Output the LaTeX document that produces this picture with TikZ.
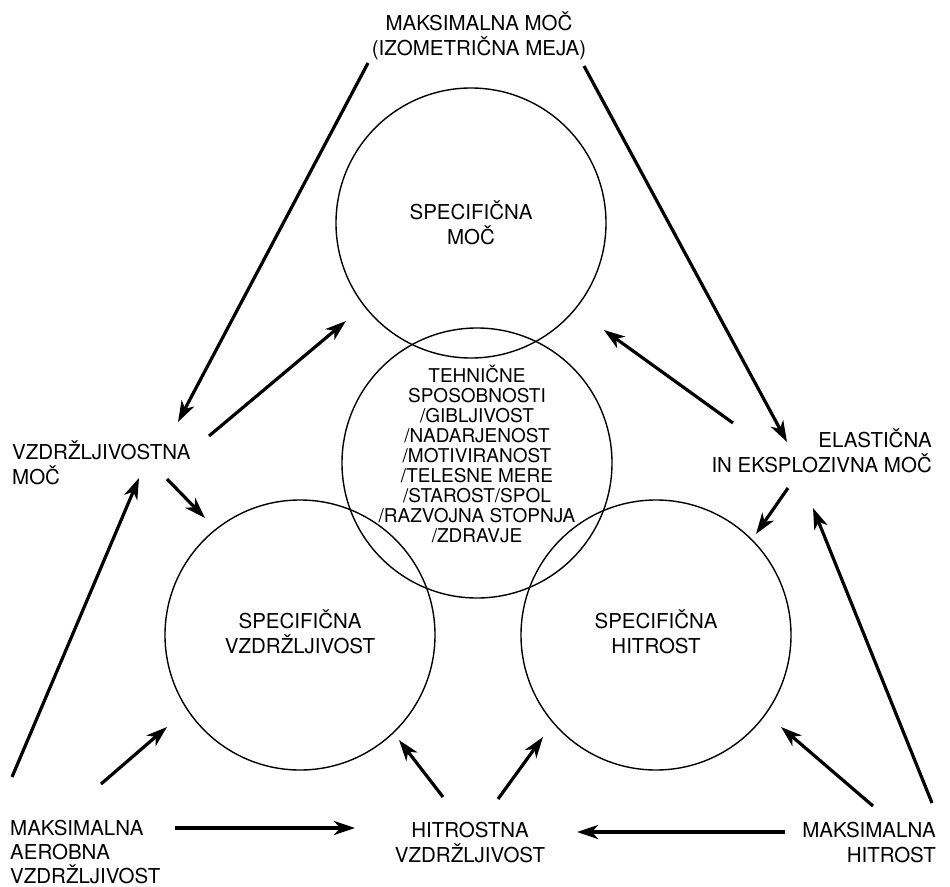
\documentclass[tikz,border=0pt]{standalone}
\usepackage{fontspec}
\setmainfont{TeX Gyre Heros}
\usetikzlibrary{arrows.meta}
\tikzset{
  ring/.style={circle, draw, line width=1.4pt, minimum size=270pt, inner sep=0pt},
  lbl/.style={inner sep=0pt, font=\fontsize{20.5}{25}\selectfont},
  lblc/.style={lbl, align=center, anchor=base},
  lbll/.style={lbl, align=left, anchor=base west},
  lblr/.style={lbl, align=right, anchor=base east},
  core/.style={inner sep=0pt, align=center, anchor=base, font=\fontsize{19}{20}\selectfont},
  arr/.style={line width=3.2pt, -{Stealth[length=21pt, width=14pt, inset=6pt]}},
}
\begin{document}
\begin{tikzpicture}[x=1pt, y=-1pt]
\useasboundingbox (0,0) rectangle (950,886);
% circles
\node[ring] (ctop) at (471,223) {};
\node[ring] (cmid) at (477,463) {};
\node[ring] (cbl) at (300,635) {};
\node[ring] (cbr) at (656,635) {};
% texts (anchor = baseline of the last line)
\node[lblc] (tmaxmoc) at (479,55) {MAKSIMALNA MOČ\\(IZOMETRIČNA MEJA)};
\node[lbll] (tvzdmoc) at (12,484) {VZDRŽLJIVOSTNA\\MOČ};
\node[lblr] (telast) at (932,472) {ELASTIČNA\\IN EKSPLOZIVNA MOČ};
\node[lblc] (tspmoc) at (471,244) {SPECIFIČNA\\MOČ};
\node[lblc] (tspvzd) at (300,653) {SPECIFIČNA\\VZDRŽLJIVOST};
\node[lblc] (tsphit) at (656,653) {SPECIFIČNA\\HITROST};
\node[core] (tcore) at (477,542) {TEHNIČNE\\SPOSOBNOSTI\\/GIBLJIVOST\\/NADARJENOST\\/MOTIVIRANOST\\/TELESNE MERE\\/STAROST/SPOL\\/RAZVOJNA STOPNJA\\/ZDRAVJE};
\node[lbll, font=\fontsize{20.5}{24}\selectfont] (taero) at (10,883) {MAKSIMALNA\\AEROBNA\\VZDRŽLJIVOST};
\node[lblc] (thitvzd) at (470,862) {HITROSTNA\\VZDRŽLJIVOST};
\node[lblr] (tmaxhit) at (936,862) {MAKSIMALNA\\HITROST};
% arrow end points
\coordinate (a1s) at (368,63);  \coordinate (a1e) at (178,422);
\coordinate (a2s) at (584,66);  \coordinate (a2e) at (787,442);
\coordinate (a3s) at (209,436); \coordinate (a3e) at (346,321);
\coordinate (a4s) at (733,423); \coordinate (a4e) at (604,330);
\coordinate (a5s) at (167,479); \coordinate (a5e) at (205,518);
\coordinate (a6s) at (788,488); \coordinate (a6e) at (756,534);
\coordinate (a7s) at (12,777);  \coordinate (a7e) at (139,478);
\coordinate (a8s) at (932,803); \coordinate (a8e) at (813,508);
\coordinate (a9s) at (101,784); \coordinate (a9e) at (167,727);
\coordinate (a10s) at (443,797); \coordinate (a10e) at (399,740);
\coordinate (a11s) at (498,799); \coordinate (a11e) at (543,737);
\coordinate (a12s) at (873,806); \coordinate (a12e) at (781,727);
\coordinate (a13s) at (175,828); \coordinate (a13e) at (355,828);
\coordinate (a14s) at (785,832); \coordinate (a14e) at (577,832);
\foreach \i in {1,...,14} { \draw[arr] (a\i s) -- (a\i e); }
\end{tikzpicture}
\end{document}
